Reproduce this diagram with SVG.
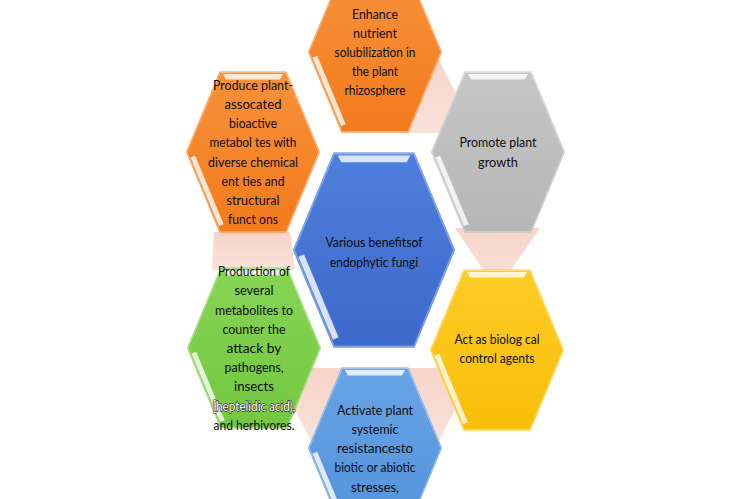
<svg xmlns="http://www.w3.org/2000/svg" xmlns:xlink="http://www.w3.org/1999/xlink" width="750" height="499" viewBox="0 0 750 499">
  <style>
    .t { font-family: "Lato", "Noto Sans", "Liberation Sans", sans-serif; font-size: 14px; fill: #0d0d0d; text-anchor: middle; }
    .w { fill: #ffffff; stroke: #2a2a2a; stroke-width: 1.3; paint-order: stroke; }
    .hl { fill: #ffffff; opacity: 0.8; }
    .edge { fill: none; stroke: #ffffff; stroke-opacity: 0.35; stroke-width: 1.2; }
    .pink { fill: url(#gPink); }
  </style>
  <defs>
    <linearGradient id="gPink" x1="0" y1="0" x2="0" y2="1">
      <stop offset="0" stop-color="#f7d4c8"/>
      <stop offset="1" stop-color="#fae2da"/>
    </linearGradient>
    <linearGradient id="gOrange" x1="0" y1="0" x2="0" y2="1">
      <stop offset="0" stop-color="#f8913a"/>
      <stop offset="1" stop-color="#f27b1c"/>
    </linearGradient>
    <linearGradient id="gGray" x1="0" y1="0" x2="0" y2="1">
      <stop offset="0" stop-color="#c6c6c6"/>
      <stop offset="1" stop-color="#b6b6b6"/>
    </linearGradient>
    <linearGradient id="gBlue" x1="0" y1="0" x2="0" y2="1">
      <stop offset="0" stop-color="#4f7fdc"/>
      <stop offset="1" stop-color="#3d69cb"/>
    </linearGradient>
    <linearGradient id="gYellow" x1="0" y1="0" x2="0" y2="1">
      <stop offset="0" stop-color="#fdcb28"/>
      <stop offset="1" stop-color="#f9bf08"/>
    </linearGradient>
    <linearGradient id="gGreen" x1="0" y1="0" x2="0" y2="1">
      <stop offset="0" stop-color="#86d455"/>
      <stop offset="1" stop-color="#74c840"/>
    </linearGradient>
    <linearGradient id="gLBlue" x1="0" y1="0" x2="0" y2="1">
      <stop offset="0" stop-color="#68a5e6"/>
      <stop offset="1" stop-color="#5391da"/>
    </linearGradient>
    <polygon id="hex" points="-67,0 -33.5,-80.5 33.5,-80.5 67,0 33.5,80.5 -33.5,80.5"/>
    <g id="bevel">
      <polygon class="hl" points="-30,-78 30,-78 27,-72.5 -27,-72.5"/>
      <polygon class="hl" points="-62.5,5.6 -34,74.1 -29.3,72.2 -57.8,3.7"/>
      <polygon class="edge" points="-66,0 -33,-79.5 33,-79.5 66,0 33,79.5 -33,79.5"/>
    </g>
  </defs>

  <rect width="750" height="499" fill="#ffffff"/>

  <g id="connectors">
    <polygon class="pink" points="437,56 400,133 476,133"/>
    <polygon class="pink" points="455,228 540,228 497,290"/>
    <polygon class="pink" points="398,368 476,368 437,445"/>
    <polygon class="pink" points="274,368 352,368 313,445"/>
    <polygon class="pink" points="214,232 290,232 295,270 212,270"/>
  </g>

  <g id="node-top" transform="translate(375,52)">
    <use xlink:href="#hex" fill="url(#gOrange)"/>
    <use xlink:href="#bevel"/>
    <text class="t" x="0" y="-33" textLength="46" lengthAdjust="spacingAndGlyphs">Enhance</text>
    <text class="t" x="0" y="-14" textLength="44" lengthAdjust="spacingAndGlyphs">nutrient</text>
    <text class="t" x="0" y="5" textLength="81" lengthAdjust="spacingAndGlyphs">solubilization in</text>
    <text class="t" x="0" y="24" textLength="46" lengthAdjust="spacingAndGlyphs">the plant</text>
    <text class="t" x="0" y="43" textLength="61" lengthAdjust="spacingAndGlyphs">rhizosphere</text>
  </g>

  <g id="node-upper-right" transform="translate(498,152)">
    <use xlink:href="#hex" fill="url(#gGray)"/>
    <use xlink:href="#bevel"/>
    <text class="t" x="0" y="-5" textLength="77" lengthAdjust="spacingAndGlyphs">Promote plant</text>
    <text class="t" x="0" y="15" textLength="40" lengthAdjust="spacingAndGlyphs">growth</text>
  </g>

  <g id="node-lower-right" transform="translate(497,350)">
    <use xlink:href="#hex" fill="url(#gYellow)"/>
    <use xlink:href="#bevel"/>
    <text class="t" x="0" y="-6" textLength="85" lengthAdjust="spacingAndGlyphs">Act as biolog cal</text>
    <text class="t" x="0" y="13" textLength="75" lengthAdjust="spacingAndGlyphs">control agents</text>
  </g>

  <g id="node-bottom" transform="translate(375,448)">
    <use xlink:href="#hex" fill="url(#gLBlue)"/>
    <use xlink:href="#bevel"/>
    <text class="t" x="0" y="-33" textLength="76" lengthAdjust="spacingAndGlyphs">Activate plant</text>
    <text class="t" x="0" y="-14" textLength="47" lengthAdjust="spacingAndGlyphs">systemic</text>
    <text class="t" x="0" y="5" textLength="76" lengthAdjust="spacingAndGlyphs">resistancesto</text>
    <text class="t" x="0" y="24" textLength="81" lengthAdjust="spacingAndGlyphs">biotic or abiotic</text>
    <text class="t" x="0" y="44" textLength="48" lengthAdjust="spacingAndGlyphs">stresses,</text>
  </g>

  <g id="node-lower-left" transform="translate(254,348)">
    <use xlink:href="#hex" fill="url(#gGreen)"/>
    <use xlink:href="#bevel"/>
    <text class="t" x="0" y="-71.8" textLength="72" lengthAdjust="spacingAndGlyphs">Production of</text>
    <text class="t" x="0" y="-52.6" textLength="39" lengthAdjust="spacingAndGlyphs">several</text>
    <text class="t" x="0" y="-33.4" textLength="78" lengthAdjust="spacingAndGlyphs">metabolites to</text>
    <text class="t" x="0" y="-14.2" textLength="63" lengthAdjust="spacingAndGlyphs">counter the</text>
    <text class="t" x="0" y="5" textLength="55" lengthAdjust="spacingAndGlyphs">attack by</text>
    <text class="t" x="0" y="24.2" textLength="59" lengthAdjust="spacingAndGlyphs">pathogens,</text>
    <text class="t" x="0" y="43.4" textLength="40" lengthAdjust="spacingAndGlyphs">insects</text>
    <text class="t w" x="0" y="62.6" textLength="83" lengthAdjust="spacingAndGlyphs">[heptelidic acid),</text>
    <text class="t" x="0" y="81.8" textLength="81" lengthAdjust="spacingAndGlyphs">and herbivores.</text>
  </g>

  <g id="node-upper-left" transform="translate(253,152)">
    <use xlink:href="#hex" fill="url(#gOrange)"/>
    <use xlink:href="#bevel"/>
    <text class="t" x="0" y="-62.2" textLength="80" lengthAdjust="spacingAndGlyphs">Produce plant-</text>
    <text class="t" x="0" y="-43" textLength="57" lengthAdjust="spacingAndGlyphs">assocated</text>
    <text class="t" x="0" y="-23.8" textLength="48" lengthAdjust="spacingAndGlyphs">bioactive</text>
    <text class="t" x="0" y="-4.6" textLength="87" lengthAdjust="spacingAndGlyphs">metabol tes with</text>
    <text class="t" x="0" y="14.6" textLength="90" lengthAdjust="spacingAndGlyphs">diverse chemical</text>
    <text class="t" x="0" y="33.8" textLength="63" lengthAdjust="spacingAndGlyphs">ent ties and</text>
    <text class="t" x="0" y="53" textLength="53" lengthAdjust="spacingAndGlyphs">structural</text>
    <text class="t" x="0" y="72.2" textLength="50" lengthAdjust="spacingAndGlyphs">funct ons</text>
  </g>

  <g id="node-center" transform="translate(374,250)">
    <use xlink:href="#hex" fill="url(#gBlue)" transform="scale(1.21)"/>
    <use xlink:href="#bevel" transform="scale(1.21)"/>
    <text class="t" x="0" y="-3" textLength="97" lengthAdjust="spacingAndGlyphs">Various benefitsof</text>
    <text class="t" x="0" y="17" textLength="88" lengthAdjust="spacingAndGlyphs">endophytic fungi</text>
  </g>
</svg>
